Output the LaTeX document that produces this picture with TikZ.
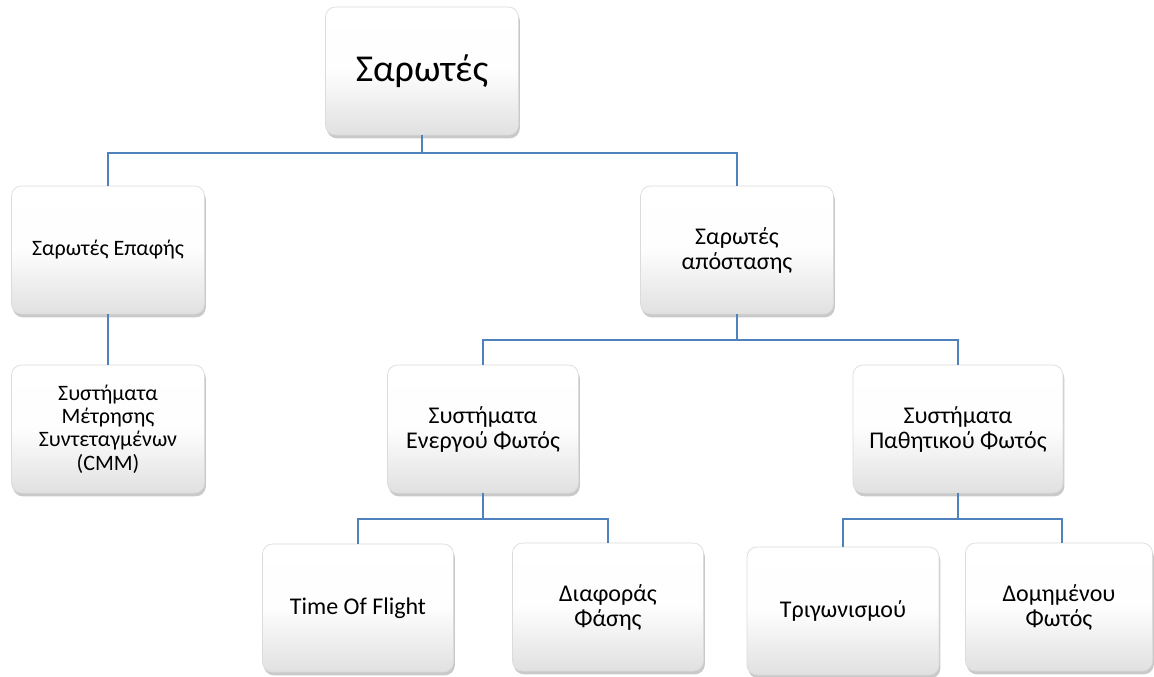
\documentclass[tikz,border=0pt]{standalone}
\usepackage{fontspec}
\setmainfont{Carlito}
\usepackage{tikz}
\usetikzlibrary{shadows}
\definecolor{linkblue}{rgb}{0.31,0.51,0.74}
\definecolor{boxgray}{rgb}{0.88,0.88,0.88}

\tikzset{
  box/.style={rounded corners=7.5pt, shade, top color=white, bottom color=boxgray,
    middle color=white!95!boxgray, draw=black!14, line width=0.5pt,
    drop shadow={shadow xshift=1pt, shadow yshift=-2.5pt, opacity=0.3, fill=black!70},
    minimum width=144.75pt, minimum height=96pt, inner sep=0pt, align=center,
    font=\fontsize{18}{18.75}\selectfont},
  smallbox/.style={box, font=\fontsize{16.5}{17.5}\selectfont},
  link/.style={draw=linkblue, line width=1.6pt}
}

\begin{document}
\begin{tikzpicture}[x=0.75pt,y=-0.75pt]
\useasboundingbox (0,0) rectangle (1154,677);

\node[box, font=\fontsize{28.5}{34}\selectfont] (root) at (422,71) {Σαρωτές};

\node[smallbox] (contact) at (108,250) {Σαρωτές Επαφής};
\node[box] (range) at (737,250) {Σαρωτές\\απόστασης};

\node[smallbox] (cmm) at (108,429) {Συστήματα\\Μέτρησης\\Συντεταγμένων\\(CMM)};
\node[box, minimum width=143.25pt] (active) at (483,429) {Συστήματα\\Ενεργού Φωτός};
\node[box, minimum width=157.5pt] (passive) at (958,429) {Συστήματα\\Παθητικού Φωτός};

\node[box, minimum width=143.25pt] (tof) at (358,608) {Time Of Flight};
\node[box, minimum width=143.25pt] (phase) at (608,607) {Διαφοράς\\Φάσης};
\node[box, minimum width=144pt] (triang) at (843,611) {Τριγωνισμού};
\node[box, minimum width=140.25pt] (struct) at (1059,607) {Δομημένου\\Φωτός};

% connectors
\draw[link] (root.south) -- ++(0,18) -| (contact.north);
\draw[link] (root.south) -- ++(0,18) -| (range.north);
\draw[link] (contact.south) -- (cmm.north);
\draw[link] (range.south) -- ++(0,26) -| (active.north);
\draw[link] (range.south) -- ++(0,26) -| (passive.north);
\draw[link] (active.south) -- ++(0,26) -| (tof.north);
\draw[link] (active.south) -- ++(0,26) -| (phase.north);
\draw[link] (passive.south) -- ++(0,26) -| (triang.north);
\draw[link] (passive.south) -- ++(0,26) -| ([xshift=2.25pt]struct.north);
\end{tikzpicture}
\end{document}
